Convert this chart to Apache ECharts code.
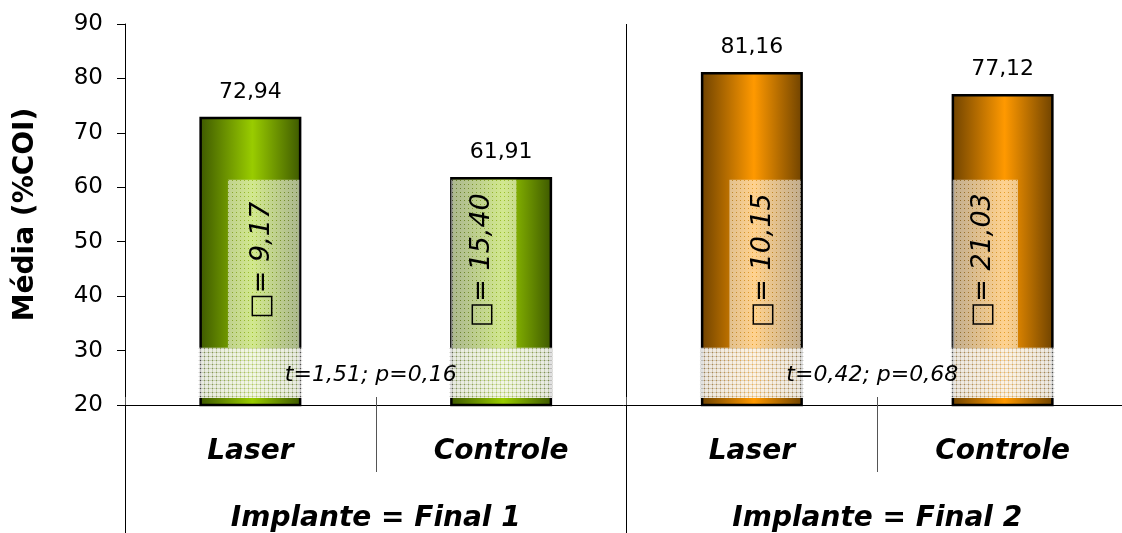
<!DOCTYPE html>
<html>
<head>
<meta charset="utf-8">
<script src="https://cdn.jsdelivr.net/npm/echarts/dist/echarts.min.js"></script>
<style>
  html, body { margin: 0; padding: 0; background: #fff; }
  #chart { width: 1122px; height: 533px; }
</style>
</head>
<body>
<div id="chart"></div>
<script>
// Mean %COI per group, with standard deviation and t-test notes
const categories = ['Laser', 'Controle', 'Laser', 'Controle'];
const groups = ['Implante = Final 1', 'Implante = Final 2'];
const means = [72.94, 61.91, 81.16, 77.12];
const sdLabels = ['\u25A1= 9,17', '\u25A1= 15,40', '\u25A1= 10,15', '\u25A1= 21,03'];
const tTestLabels = ['t=1,51; p=0,16', 't=0,42; p=0,68'];
const yMin = 20, yMax = 90, yStep = 10;

// Layout / style constants
const BAR_WIDTH = 102;
const SD_BOX = { low: 30.5, high: 61.4, textAt: 46.6 };
const T_BOX = { low: 21.3, textAt: 25.5 };
const LASER_SPAN = [0.28, 0.98];
const CONTROLE_SPAN = [0.01, 0.65];
const SANS = '"DejaVu Sans", "Liberation Sans", Arial, sans-serif';

function grad(edge, mid) {
  return new echarts.graphic.LinearGradient(0, 0, 1, 0, [
    { offset: 0, color: edge },
    { offset: 0.52, color: mid },
    { offset: 1, color: edge }
  ]);
}
const greenFill = grad('#3d5800', '#99cc00');
const orangeFill = grad('#6e4200', '#ff9900');

// Small tiled textures for the note boxes
function tile(draw) {
  const c = document.createElement('canvas');
  c.width = 4; c.height = 4;
  const ctx = c.getContext('2d');
  draw(ctx);
  return { image: c, repeat: 'repeat' };
}
const sdTexture = tile(function (ctx) {
  ctx.fillStyle = 'rgba(255,255,255,0.56)';
  ctx.fillRect(0, 0, 4, 4);
  ctx.clearRect(0, 0, 1, 1);
  ctx.fillStyle = 'rgba(180,180,150,0.3)';
  ctx.fillRect(0, 0, 1, 1);
});
const tTexture = tile(function (ctx) {
  ctx.fillStyle = 'rgba(255,255,255,0.88)';
  ctx.fillRect(0, 0, 4, 4);
  ctx.clearRect(0, 0, 4, 1);
  ctx.clearRect(0, 0, 1, 4);
  ctx.fillStyle = 'rgba(222,222,218,0.85)';
  ctx.fillRect(0, 0, 4, 1);
  ctx.fillRect(0, 0, 1, 4);
  ctx.clearRect(0, 0, 1, 1);
  ctx.fillStyle = 'rgba(255,255,255,0.3)';
  ctx.fillRect(0, 0, 1, 1);
});

function renderNoteBoxes(params, api) {
  const i = api.value(0);
  const cx = api.coord([i, SD_BOX.low])[0];
  const left = cx - BAR_WIDTH / 2;
  const span = i % 2 === 0 ? LASER_SPAN : CONTROLE_SPAN;
  const x0 = left + span[0] * BAR_WIDTH;
  const x1 = left + span[1] * BAR_WIDTH;
  const yTop = api.coord([i, SD_BOX.high])[1];
  const yMid = api.coord([i, SD_BOX.low])[1];
  const yBot = api.coord([i, T_BOX.low])[1];
  return {
    type: 'group',
    children: [
      { type: 'rect', shape: { x: x0, y: yTop, width: x1 - x0, height: yMid - yTop }, style: { fill: sdTexture } },
      { type: 'rect', shape: { x: left - 1, y: yMid, width: BAR_WIDTH + 2, height: yBot - yMid }, style: { fill: tTexture } },
      {
        type: 'text',
        x: (x0 + x1) / 2 - 2,
        y: api.coord([i, SD_BOX.textAt])[1],
        rotation: Math.PI / 2,
        style: {
          text: sdLabels[params.dataIndex],
          fontSize: 27, fontStyle: 'italic', fontFamily: SANS,
          fill: '#000', align: 'center', verticalAlign: 'middle'
        }
      }
    ]
  };
}

function renderTTest(params, api) {
  const g = api.value(0);
  const a = api.coord([2 * g, T_BOX.textAt]);
  const b = api.coord([2 * g + 1, T_BOX.textAt]);
  return {
    type: 'text',
    x: (a[0] + b[0]) / 2 - 5,
    y: a[1],
    z2: 10,
    style: {
      text: tTestLabels[params.dataIndex],
      fontSize: 22, fontStyle: 'italic', fontFamily: SANS,
      fill: '#000', align: 'center', verticalAlign: 'middle'
    }
  };
}

const chart = echarts.init(document.getElementById('chart'), null, { renderer: 'canvas' });
chart.setOption({
  animation: false,
  backgroundColor: '#ffffff',
  grid: { left: 125, top: 24, width: 1003, height: 381, containLabel: false, outerBoundsMode: 'none' },
  xAxis: [
    {
      type: 'category', data: categories, position: 'bottom',
      axisLine: { show: true, lineStyle: { color: '#000', width: 1 } },
      axisTick: { show: true, inside: true, length: 8, lineStyle: { color: '#555' } },
      axisLabel: {
        margin: 33, color: '#000', fontSize: 28, lineHeight: 28,
        fontWeight: 'bold', fontStyle: 'italic', fontFamily: SANS
      },
      splitLine: { show: false }
    },
    {
      type: 'category', data: categories, position: 'bottom', offset: 0,
      axisLine: { show: false },
      axisTick: { show: true, length: 67, lineStyle: { color: '#555' } },
      axisLabel: { show: false },
      splitLine: { show: false }
    },
    {
      type: 'category', data: groups, position: 'bottom', offset: 0,
      axisLine: { show: false },
      axisTick: { show: true, length: 128, lineStyle: { color: '#000' } },
      axisLabel: {
        margin: 100, color: '#000', fontSize: 28, lineHeight: 28,
        fontWeight: 'bold', fontStyle: 'italic', fontFamily: SANS
      },
      splitLine: { show: true, lineStyle: { color: '#000', width: 1 } }
    }
  ],
  yAxis: {
    type: 'value', min: yMin, max: yMax, interval: yStep,
    name: 'Média (%COI)', nameLocation: 'middle', nameGap: 85, nameRotate: 90,
    nameTextStyle: { fontSize: 28, fontWeight: 'bold', fontFamily: SANS, color: '#000' },
    axisLine: { show: true, lineStyle: { color: '#000', width: 1 } },
    axisTick: { show: true, length: 8, lineStyle: { color: '#000' } },
    axisLabel: { margin: 22, fontSize: 23, fontFamily: SANS, color: '#000' },
    splitLine: { show: false }
  },
  series: [
    {
      type: 'bar', xAxisIndex: 0, yAxisIndex: 0, barWidth: BAR_WIDTH,
      data: means.map(function (v, i) {
        return { value: v, itemStyle: { color: i < 2 ? greenFill : orangeFill } };
      }),
      itemStyle: { borderColor: '#000', borderWidth: 2.5 },
      label: {
        show: true, position: 'top', distance: 14,
        fontSize: 22, fontFamily: SANS, color: '#000',
        formatter: function (p) { return p.value.toFixed(2).replace('.', ','); }
      },
      z: 2
    },
    {
      type: 'custom', xAxisIndex: 0, yAxisIndex: 0,
      data: means.map(function (v, i) { return [i, v]; }),
      encode: { x: 0, y: 1 },
      renderItem: renderNoteBoxes,
      silent: true, z: 3
    },
    {
      type: 'custom', xAxisIndex: 0, yAxisIndex: 0,
      data: tTestLabels.map(function (t, g) { return [g, T_BOX.textAt]; }),
      encode: { x: 0, y: 1 },
      renderItem: renderTTest,
      silent: true, z: 4
    }
  ]
});
</script>
</body>
</html>
